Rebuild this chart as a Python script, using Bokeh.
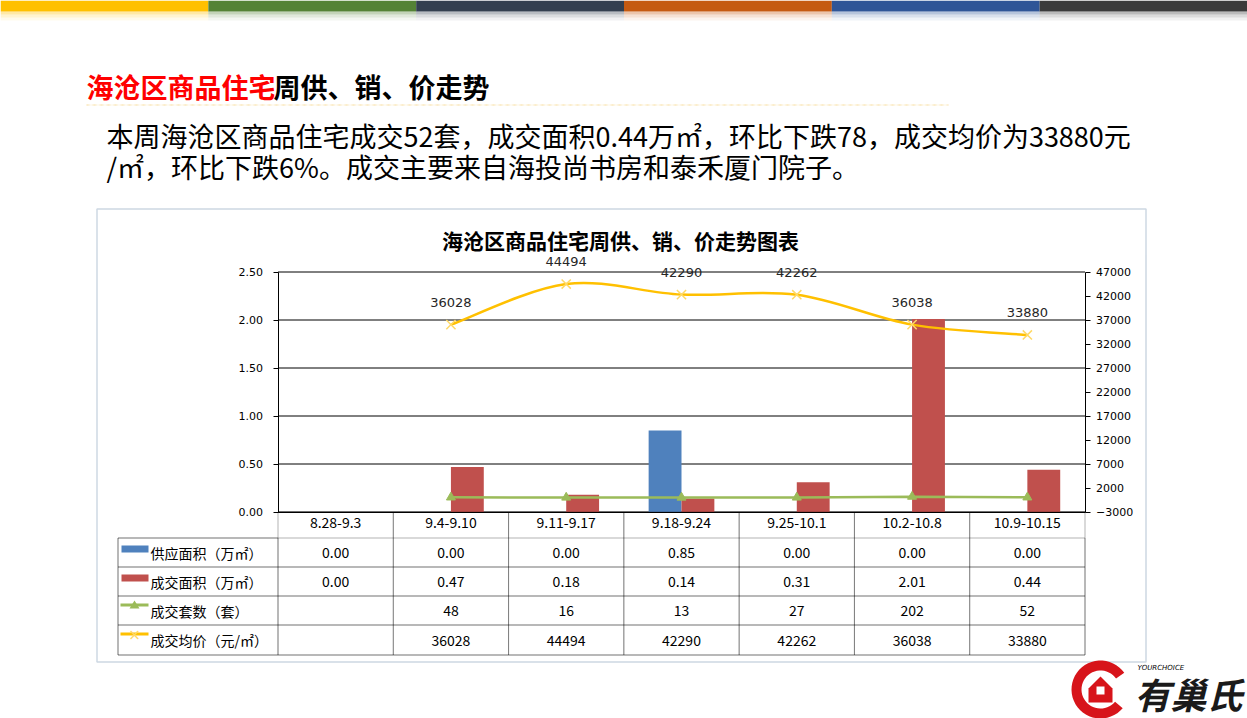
from bokeh.plotting import figure
from bokeh.models import (Range1d, LinearAxis, FixedTicker, NumeralTickFormatter, Label, LabelSet,
                          BoxAnnotation, PolyAnnotation, ColumnDataSource)
from bokeh.core.properties import value
from bokeh.embed import file_html
from bokeh.resources import INLINE
import numpy as np

# ---------------- data ----------------
categories = ["8.28-9.3", "9.4-9.10", "9.11-9.17", "9.18-9.24", "9.25-10.1", "10.2-10.8", "10.9-10.15"]
supply_area = [0.00, 0.00, 0.00, 0.85, 0.00, 0.00, 0.00]
sales_area = [0.00, 0.47, 0.18, 0.14, 0.31, 2.01, 0.44]
units_sold = [None, 48, 16, 13, 27, 202, 52]
avg_price = [None, 36028, 44494, 42290, 42262, 36038, 33880]
left_ticks = [0.0, 0.5, 1.0, 1.5, 2.0, 2.5]
right_ticks = [-3000, 2000, 7000, 12000, 17000, 22000, 27000, 32000, 37000, 42000, 47000]
series_names = ["供应面积（万㎡）", "成交面积（万㎡）", "成交套数（套）", "成交均价（元/㎡）"]
chart_title = "海沧区商品住宅周供、销、价走势图表"
head_red = "海沧区商品住宅"
head_black = "周供、销、价走势"
para1 = "本周海沧区商品住宅成交52套，成交面积0.44万㎡，环比下跌78，成交均价为33880元"
para2 = "/㎡，环比下跌6%。成交主要来自海投尚书房和泰禾厦门院子。"

BLUE, RED, GREEN, GOLD = "#4F81BD", "#C0504D", "#9BBB59", "#FFC000"
CJK = "Noto Sans CJK SC"

# ---------------- layout constants (pixels) ----------------
W, H = 1247, 718
PL, PR, PT, PB = 277.5, 1084.5, 271.5, 511.5   # plot area of the chart

n = len(categories)
centers = list(range(n))
L0, L1 = left_ticks[0], left_ticks[-1]
R0, R1 = right_ticks[0], right_ticks[-1]

# ranges so that the frame (whole canvas) maps the plot area to PL..PR / PT..PB
xpp = n / (PR - PL)
ypp = (L1 - L0) / (PB - PT)
rpp = (R1 - R0) / (PB - PT)
x_rng = Range1d(-0.5 - PL * xpp, n - 0.5 + (W - PR) * xpp)
y_rng = Range1d(L0 - (H - PB) * ypp, L1 + PT * ypp)
r_rng = Range1d(R0 - (H - PB) * rpp, R1 + PT * rpp)

p = figure(width=W, height=H, x_range=x_rng, y_range=y_rng,
           min_border=0, min_border_left=0, min_border_right=0, min_border_top=0, min_border_bottom=0,
           output_backend="svg", toolbar_location=None, tools="")
p.title.visible = False
p.outline_line_color = None
p.background_fill_color = "white"
p.border_fill_color = "white"
p.xgrid.visible = False
p.ygrid.visible = False
p.extra_y_ranges = {"price": r_rng}

# horizontal gridlines of the chart
p.segment(x0=[-0.5] * len(left_ticks), x1=[n - 0.5] * len(left_ticks), y0=left_ticks, y1=left_ticks,
          line_color="black", line_width=1)

# x axis -> table header row
xa = p.xaxis[0]
xa.fixed_location = L0
xa.bounds = (-0.5, n - 0.5)
xa.ticker = FixedTicker(ticks=centers)
xa.major_label_overrides = {i: c for i, c in enumerate(categories)}
xa.major_tick_line_color = None
xa.major_tick_out = 0
xa.major_tick_in = 0
xa.minor_tick_line_color = None
xa.axis_line_color = "black"
xa.major_label_standoff = 5
xa.major_label_text_font = CJK
xa.major_label_text_font_size = "14px"
xa.major_label_text_color = "black"

# left axis
ya = p.yaxis[0]
ya.fixed_location = -0.5
ya.bounds = (L0, L1)
ya.ticker = FixedTicker(ticks=left_ticks)
ya.formatter = NumeralTickFormatter(format="0.00")
ya.major_tick_out = 5
ya.major_tick_in = 0
ya.minor_tick_line_color = None
ya.axis_line_color = "black"
ya.major_label_text_font = "DejaVu Sans"
ya.major_label_text_font_size = "11px"
ya.major_label_text_color = "black"
ya.major_label_standoff = 10

# right axis
ra = LinearAxis(y_range_name="price", ticker=FixedTicker(ticks=right_ticks), fixed_location=n - 0.5,
                bounds=(R0, R1))
ra.major_tick_out = 5
ra.major_tick_in = 0
ra.minor_tick_line_color = None
ra.axis_line_color = "black"
ra.major_label_text_font = "DejaVu Sans"
ra.major_label_text_font_size = "11px"
ra.major_label_text_color = "black"
ra.major_label_standoff = 6
p.add_layout(ra, "right")

# ---------------- bars ----------------
bw = 0.285
p.vbar(x=[c - bw / 2 for c in centers], top=supply_area, width=bw, color=BLUE, line_color=None)
p.vbar(x=[c + bw / 2 for c in centers], top=sales_area, width=bw, color=RED, line_color=None)

# ---------------- count line ----------------
ux = [c for c, u in zip(centers, units_sold) if u is not None]
uy = [u for u in units_sold if u is not None]
p.line(ux, uy, y_range_name="price", line_color=GREEN, line_width=2.5)
p.scatter(ux, uy, y_range_name="price", marker="triangle", size=9, color=GREEN)

# ---------------- price smooth line ----------------
px = [c for c, v in zip(centers, avg_price) if v is not None]
py = [v for v in avg_price if v is not None]
P = np.array(list(zip(px, py)), dtype=float)
m = len(P)
x0, y0, x1, y1, cx0, cy0, cx1, cy1 = [], [], [], [], [], [], [], []
for i in range(m - 1):
    pm = P[i - 1] if i > 0 else P[i]
    p0, p1 = P[i], P[i + 1]
    p2 = P[i + 2] if i + 2 < m else P[i + 1]
    c0 = p0 + (p1 - pm) / 6.0
    c1 = p1 - (p2 - p0) / 6.0
    x0.append(p0[0]); y0.append(p0[1]); x1.append(p1[0]); y1.append(p1[1])
    cx0.append(c0[0]); cy0.append(c0[1]); cx1.append(c1[0]); cy1.append(c1[1])
p.bezier(x0=x0, y0=y0, x1=x1, y1=y1, cx0=cx0, cy0=cy0, cx1=cx1, cy1=cy1,
         y_range_name="price", line_color=GOLD, line_width=2.5)
p.scatter(px, py, y_range_name="price", marker="x", size=13, line_color="#FFD966", line_width=1.5)

price_src = ColumnDataSource(dict(x=px, y=py, t=[str(v) for v in py]))
p.add_layout(LabelSet(x="x", y="y", text="t", source=price_src, y_range_name="price",
                      y_offset=18, text_align="center", text_baseline="bottom",
                      text_font=value("DejaVu Sans"), text_font_size="13px", text_color="#262626"))

# ---------------- slide decoration ----------------
def cbox(l, r, t, b, **kw):
    return BoxAnnotation(left=l, right=r, top=t, bottom=b, left_units="canvas", right_units="canvas",
                         top_units="canvas", bottom_units="canvas", **kw)

bar_cols = ["#FFC000", "#548235", "#333F50", "#C55A11", "#2F5597", "#3A3A3A"]
seg = W / len(bar_cols)
for i, c in enumerate(bar_cols):
    p.add_layout(cbox(i * seg, (i + 1) * seg, 0, 11, fill_color=c, fill_alpha=1, line_color=None))
    for k, a in enumerate([0.35, 0.18, 0.07]):
        p.add_layout(cbox(i * seg, (i + 1) * seg, 11 + 3 * k, 14 + 3 * k, fill_color=c, fill_alpha=a,
                          line_color=None))

HF = 27
p.add_layout(Label(x=86, y=86, x_units="canvas", y_units="canvas", text=head_red, text_font=CJK,
                   text_font_size=f"{HF}px", text_font_style="bold", text_color="#FF0000",
                   text_baseline="middle", text_align="left"))
p.add_layout(Label(x=86 + HF * len(head_red) - 2, y=86, x_units="canvas", y_units="canvas", text=head_black,
                   text_font=CJK, text_font_size=f"{HF}px", text_font_style="bold", text_color="black",
                   text_baseline="middle", text_align="left"))
p.add_layout(cbox(86, 948, 104.5, 104.5, fill_color=None, line_color="#F2C54B", line_width=1,
                  line_dash="4 3"))

for txt, yy in [(para1, 135), (para2, 166)]:
    p.add_layout(Label(x=106, y=yy, x_units="canvas", y_units="canvas", text=txt, text_font=CJK,
                       text_font_size="27px", text_color="black", text_baseline="middle",
                       text_align="left"))

# chart box
p.add_layout(cbox(96.5, 1145.5, 208.5, 661.5, fill_color=None, line_color="#5B7FA3", line_width=1.5))
p.add_layout(Label(x=620, y=239, x_units="canvas", y_units="canvas", text=chart_title, text_font=CJK,
                   text_font_size="21px", text_font_style="bold", text_color="black",
                   text_baseline="middle", text_align="center"))

# ---------------- data table ----------------
row_tops = [537.5, 566.5, 595.5, 624.5]
row_bots = [566.5, 595.5, 624.5, 654.5]
for i in centers:
    p.add_layout(BoxAnnotation(left=i - 0.5, right=i + 0.5, top=PB, bottom=row_bots[-1], top_units="canvas",
                               bottom_units="canvas", fill_color=None, line_color="black", line_width=1))
for t, b in zip(row_tops, row_bots):
    p.add_layout(BoxAnnotation(left=117.5, left_units="canvas", right=n - 0.5, top=t, bottom=b,
                               top_units="canvas", bottom_units="canvas", fill_color=None,
                               line_color="black", line_width=1))
p.add_layout(cbox(117.5, PL, row_tops[0], row_bots[-1], fill_color=None, line_color="black", line_width=1))

row_texts = [
    [f"{v:.2f}" for v in supply_area],
    [f"{v:.2f}" for v in sales_area],
    ["" if v is None else str(v) for v in units_sold],
    ["" if v is None else str(v) for v in avg_price],
]
for txts, t, b in zip(row_texts, row_tops, row_bots):
    src = ColumnDataSource(dict(x=centers, y=[(t + b) / 2] * n, t=txts))
    p.add_layout(LabelSet(x="x", y="y", text="t", source=src, y_units="canvas", text_align="center",
                          text_baseline="middle", text_font=value(CJK), text_font_size="14px",
                          text_color="black"))

# legend keys
for name, t, b in zip(series_names, row_tops, row_bots):
    p.add_layout(Label(x=150, y=(t + b) / 2, x_units="canvas", y_units="canvas", text=name, text_font=CJK,
                       text_font_size="14px", text_color="black", text_baseline="middle", text_align="left"))
p.add_layout(cbox(121, 148, 545, 552, fill_color=BLUE, fill_alpha=1, line_color=None))
p.add_layout(cbox(121, 148, 574, 581, fill_color=RED, fill_alpha=1, line_color=None))
p.add_layout(cbox(120, 148, 603, 606, fill_color=GREEN, fill_alpha=1, line_color=None))
p.add_layout(PolyAnnotation(xs=[129, 134, 139], ys=[608, 600, 608], xs_units="canvas", ys_units="canvas",
                            fill_color=GREEN, fill_alpha=1, line_color=None))
p.add_layout(cbox(120, 148, 632, 635, fill_color=GOLD, fill_alpha=1, line_color=None))
p.add_layout(Label(x=134, y=634, x_units="canvas", y_units="canvas", text="×", text_font="DejaVu Sans",
                   text_font_size="15px", text_color="#FFD966", text_baseline="middle", text_align="center"))

# ---------------- logo ----------------
cx, cy, R, r = 1100, 689, 29, 19
ang = np.radians(np.linspace(35, 320, 40))
ring_x = list(cx + R * np.cos(ang)) + list(cx + r * np.cos(ang[::-1]))
ring_y = list(cy - R * np.sin(ang)) + list(cy - r * np.sin(ang[::-1]))
p.add_layout(PolyAnnotation(xs=ring_x, ys=ring_y, xs_units="canvas", ys_units="canvas",
                            fill_color="#D7141A", fill_alpha=1, line_color=None))
p.add_layout(PolyAnnotation(xs=[1088, 1100, 1112, 1112, 1088], ys=[688, 676, 688, 702, 702],
                            xs_units="canvas", ys_units="canvas", fill_color="#D7141A", fill_alpha=1,
                            line_color=None))
p.add_layout(cbox(1096, 1104, 686, 694, fill_color="white", fill_alpha=1, line_color=None))
p.add_layout(Label(x=1137, y=667, x_units="canvas", y_units="canvas", text="YOURCHOICE",
                   text_font="DejaVu Sans", text_font_size="7px", text_font_style="italic",
                   text_color="black", text_baseline="middle", text_align="left"))
p.add_layout(Label(x=1134, y=692, x_units="canvas", y_units="canvas", text="有巢氏", text_font=CJK,
                   text_font_size="36px", text_font_style="bold italic", text_color="#1a1a1a",
                   text_baseline="middle", text_align="left"))

open("out.html", "w").write(file_html(p, INLINE))
